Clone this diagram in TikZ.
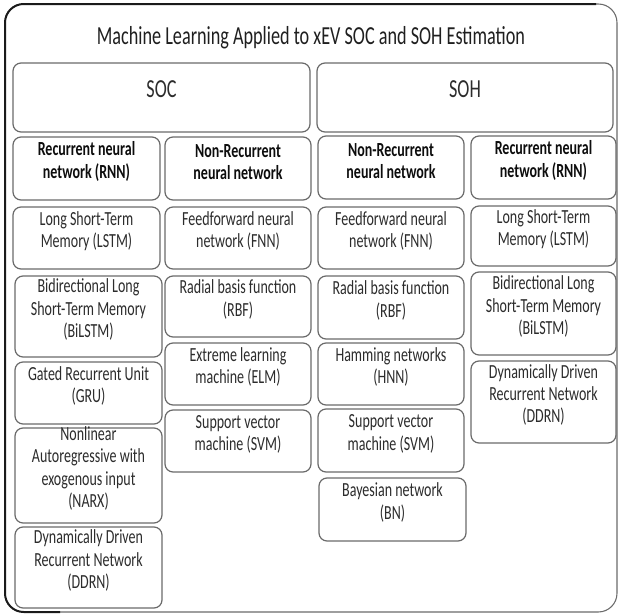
\documentclass[tikz,border=0pt]{standalone}
\usepackage{fontspec}
\setmainfont{Carlito}[FakeStretch=0.7]
\usetikzlibrary{fit}
\definecolor{boxline}{HTML}{6A6A6A}
\definecolor{txt}{HTML}{2C2C2C}
\definecolor{framecol}{HTML}{1A1A1A}
\tikzset{
  box/.style={draw=boxline, line width=0.9pt, rounded corners=6pt, fill=white,
    inner sep=0pt, align=center, text=txt, font=\fontsize{15pt}{16.7pt}\selectfont},
  headbox/.style={box, text=black!95, font=\fontsize{15pt}{16.7pt}\selectfont\bfseries},
  bigbox/.style={box, font=\fontsize{19.5pt}{22pt}\selectfont},
  titletext/.style={text=black!88, font=\fontsize{19.5pt}{22pt}\selectfont, inner sep=0pt}
}
\begin{document}
\begin{tikzpicture}[x=0.75pt, y=-0.75pt]
\useasboundingbox (0,0) rectangle (619,614);
% outer frame
\draw[boxline, line width=0.8pt, rounded corners=14pt] (5,4) rectangle (617,612);
\draw[framecol, line width=1.5pt, rounded corners=14pt] (60,612) -- (5,612) -- (5,4) -- (596,4);
% title
\node[titletext] (title) at (311,38) {Machine Learning Applied to xEV SOC and SOH Estimation};
% top categories
\node[bigbox, fit={(13,63) (310,132)}] (soc) {SOC};
\node[bigbox, fit={(317,63) (613,132)}] (soh) {SOH};
% column 1: SOC recurrent
\node[headbox, fit={(13,137) (160,200)}] (c1h) {Recurrent neural\\network (RNN)};
\node[box, fit={(13,207) (160,269)}] (c1a) {Long Short-Term\\Memory (LSTM)};
\node[box, fit={(15,276) (162,357)}] (c1b) {Bidirectional Long\\Short-Term Memory\\(BiLSTM)};
\node[box, fit={(15,362) (162,424)}] (c1c) {Gated Recurrent Unit\\(GRU)};
\node[box, fit={(15,428) (162,523)}] (c1d) {Nonlinear\\Autoregressive with\\exogenous input\\(NARX)};
\node[box, fit={(15,527) (162,608)}] (c1e) {Dynamically Driven\\Recurrent Network\\(DDRN)};
% column 2: SOC non-recurrent
\node[headbox, fit={(165,137) (311,200)}] (c2h) {Non-Recurrent\\neural network};
\node[box, fit={(165,207) (311,269)}] (c2a) {Feedforward neural\\network (FNN)};
\node[box, fit={(165,276) (311,337)}] (c2b) {Radial basis function\\(RBF)};
\node[box, fit={(165,343) (311,405)}] (c2c) {Extreme learning\\machine (ELM)};
\node[box, fit={(165,410) (311,472)}] (c2d) {Support vector\\machine (SVM)};
% column 3: SOH non-recurrent
\node[headbox, fit={(318,136) (464,199)}] (c3h) {Non-Recurrent\\neural network};
\node[box, fit={(318,207) (464,269)}] (c3a) {Feedforward neural\\network (FNN)};
\node[box, fit={(318,276) (464,339)}] (c3b) {Radial basis function\\(RBF)};
\node[box, fit={(318,343) (464,405)}] (c3c) {Hamming networks\\(HNN)};
\node[box, fit={(318,409) (464,472)}] (c3d) {Support vector\\machine (SVM)};
\node[box, fit={(319,478) (466,541)}] (c3e) {Bayesian network\\(BN)};
% column 4: SOH recurrent
\node[headbox, fit={(471,136) (616,199)}] (c4h) {Recurrent neural\\network (RNN)};
\node[box, fit={(471,206) (616,266)}] (c4a) {Long Short-Term\\Memory (LSTM)};
\node[box, fit={(471,272) (616,355)}] (c4b) {Bidirectional Long\\Short-Term Memory\\(BiLSTM)};
\node[box, fit={(471,361) (616,443)}] (c4c) {Dynamically Driven\\Recurrent Network\\(DDRN)};
\end{tikzpicture}
\end{document}
